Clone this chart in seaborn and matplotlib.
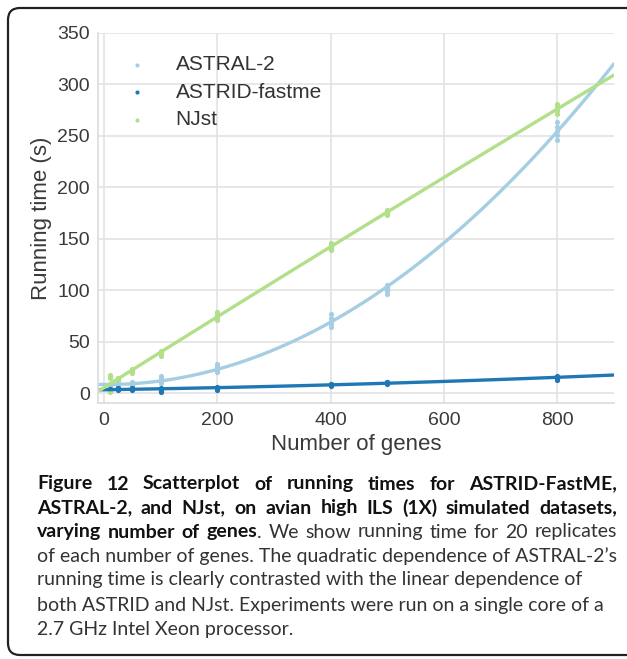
import pandas as pd
import matplotlib
matplotlib.use("Agg")
import matplotlib.pyplot as plt
import matplotlib.patches as mpatches
import seaborn as sns

# number of genes per dataset and running times (s) of replicates
genes = [10, 25, 50, 100, 200, 400, 500, 800]

astral_times = [
    [5, 6, 7, 8, 9],
    [6, 7, 8, 9, 10],
    [7, 8, 9, 10, 11],
    [10, 12, 13, 15, 17],
    [20, 22, 24, 26, 28],
    [64, 67, 70, 73, 77],
    [96, 99, 101, 103, 105],
    [246, 251, 255, 259, 263],
]
astrid_times = [
    [2, 3, 3, 4, 4],
    [3, 4, 4, 5, 5],
    [3, 4, 4, 5, 5],
    [1, 2, 3, 4, 5],
    [3, 4, 4, 5, 6],
    [7, 8, 8, 9, 9],
    [9, 10, 10, 11, 11],
    [13, 14, 15, 16, 17],
]
njst_times = [
    [1, 2, 15, 17, 18],
    [12, 13, 14, 15, 15],
    [19, 20, 21, 22, 23],
    [36, 38, 39, 40, 41],
    [71, 73, 75, 77, 79],
    [139, 141, 142, 144, 146],
    [173, 175, 176, 177, 178],
    [271, 274, 276, 278, 281],
]

methods = ["ASTRAL-2", "ASTRID-fastme", "NJst"]
colors = ["#a6cee3", "#1f78b4", "#b2df8a"]

caption_bold = [
    "Figure 12 Scatterplot of running times for ASTRID-FastME,",
    "ASTRAL-2, and NJst, on avian high ILS (1X) simulated datasets,",
    "varying number of genes",
]
caption_rest = ". We show running time for 20 replicates"
caption_lines = [
    "of each number of genes. The quadratic dependence of ASTRAL-2\u2019s",
    "running time is clearly contrasted with the linear dependence of",
    "both ASTRID and NJst. Experiments were run on a single core of a",
    "2.7 GHz Intel Xeon processor.",
]

rows = []
for name, times in zip(methods, [astral_times, astrid_times, njst_times]):
    for g, reps in zip(genes, times):
        for t in reps:
            rows.append({"method": name, "genes": g, "time": t})
df = pd.DataFrame(rows)

sns.set_style("whitegrid", {"grid.color": "#e3e3e3", "axes.edgecolor": "#dcdcdc"})
plt.rcParams["font.family"] = ["Liberation Sans", "DejaVu Sans"]

W, H = 627, 659
fig = plt.figure(figsize=(W / 100, H / 100), dpi=100)
ax = fig.add_axes([0.157, 0.388, 0.822, 0.562])
ax.set_xlim(-10, 900)
ax.set_ylim(-10, 350)

for name, col in zip(methods, colors):
    sub = df[df["method"] == name]
    sns.regplot(data=sub, x="genes", y="time", order=2, ci=None, truncate=False,
                color=col, ax=ax,
                scatter_kws={"s": 14, "alpha": 1, "linewidths": 0},
                line_kws={"lw": 2.4})

ax.set_xlim(-10, 900)
ax.set_ylim(-10, 350)
ax.set_xticks([0, 200, 400, 600, 800])
ax.set_yticks(range(0, 351, 50))
ax.tick_params(labelsize=14, colors="#3a3a3a", length=0, pad=6)
ax.set_xlabel("Number of genes", fontsize=16, color="#3a3a3a", labelpad=4)
ax.set_ylabel("Running time (s)", fontsize=16, color="#3a3a3a", labelpad=4)
ax.grid(True, lw=1.2)
for side in ["top", "right"]:
    ax.spines[side].set_visible(False)
for side in ["left", "bottom"]:
    ax.spines[side].set_linewidth(1.2)

ax.legend(handles=ax.collections[:3], labels=methods, loc="upper left",
          bbox_to_anchor=(-0.002, 0.99), frameon=False, fontsize=15,
          markerscale=0.8, handletextpad=0.85, labelspacing=0.4,
          labelcolor="#333333")

# rounded frame round plot + caption (right side runs off the image)
box = mpatches.FancyBboxPatch((0.08, 0.04), 7.0, 6.47,
                              boxstyle="round,pad=0,rounding_size=0.12",
                              transform=fig.dpi_scale_trans, fill=False,
                              edgecolor="#222222", lw=1.6)
fig.patches.append(box)

# caption
cap_font = ["Liberation Sans Narrow", "Lato", "DejaVu Sans"]
renderer = fig.canvas.get_renderer()
x_left, x_right = 37, 617
ys = [484, 508, 532, 556, 580, 605, 629]


def width_of(txt, size, weight):
    t = fig.text(0, 0, txt, fontsize=size, fontweight=weight, family=cap_font)
    w = t.get_window_extent(renderer).width
    t.remove()
    return w


fs = 10 * (x_right - x_left) / width_of(caption_lines[0], 10, "normal")


def put(x, y, txt, weight):
    col = "#111111" if weight == "bold" else "#333333"
    fig.text(x / W, 1 - y / H, txt, fontsize=fs, fontweight=weight,
             family=cap_font, va="center", color=col)


def justified(words, y):
    # words: list of lists of (text, weight) pieces
    widths = [sum(width_of(p, fs, wt) for p, wt in w) for w in words]
    gap = (x_right - x_left - sum(widths)) / (len(words) - 1)
    x = x_left
    for w, wd in zip(words, widths):
        xx = x
        for p, wt in w:
            put(xx, y, p, wt)
            xx += width_of(p, fs, wt)
        x += wd + gap


for i in range(2):
    justified([[(w, "bold")] for w in caption_bold[i].split()], ys[i])

bold3 = caption_bold[2].split()
rest = caption_rest.split()
words3 = [[(w, "bold")] for w in bold3[:-1]]
words3.append([(bold3[-1], "bold"), (rest[0], "normal")])
words3 += [[(w, "normal")] for w in rest[1:]]
justified(words3, ys[2])

for i, line in enumerate(caption_lines):
    put(x_left, ys[3 + i], line, "normal")

fig.savefig("out.png", dpi=100)
